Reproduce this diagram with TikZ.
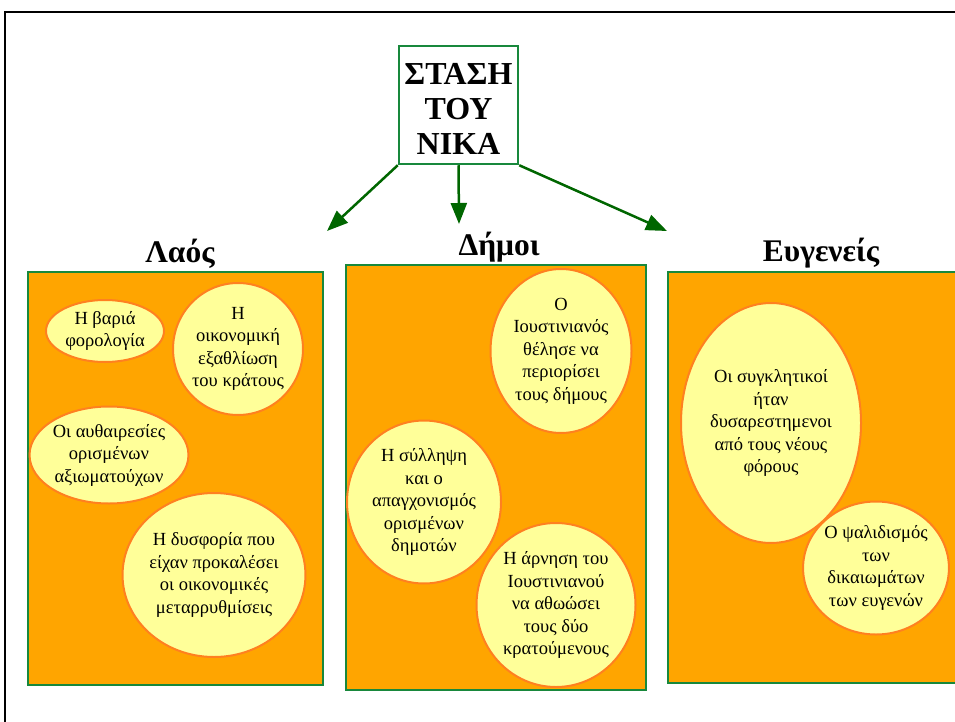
\documentclass[tikz,border=0pt]{standalone}
\usepackage{fontspec}
\setmainfont{Liberation Serif}
\usetikzlibrary{shapes.geometric,arrows.meta}
\definecolor{boxgreen}{RGB}{24,136,60}
\definecolor{arrgreen}{RGB}{0,102,0}
\definecolor{orfill}{RGB}{255,165,0}
\definecolor{elfill}{RGB}{255,255,153}
\definecolor{eldraw}{RGB}{255,128,32}
\tikzset{
  panel/.style={draw=boxgreen,line width=2.5pt,fill=orfill},
  bubble/.style={ellipse,draw=eldraw,line width=2pt,fill=elfill,inner sep=0pt,align=center,
     font=\fontsize{18.5}{22.5}\selectfont},
  grouplabel/.style={anchor=base,font=\bfseries\fontsize{31.5}{36}\selectfont},
  titlebox/.style={draw=boxgreen,line width=2.5pt,fill=white,minimum width=119pt,minimum height=118pt,
     align=center,inner sep=0pt,font=\bfseries\fontsize{32}{35}\selectfont},
  conn/.style={draw=arrgreen,line width=2.5pt,-{Triangle[length=21pt,width=16pt]}}
}
\begin{document}
\begin{tikzpicture}[x=1pt,y=-1pt]
\useasboundingbox (0,0) rectangle (955,722);
\clip (0,0) rectangle (955,722);
\fill[white] (0,0) rectangle (955,722);
\draw[line width=2.5pt] (5,730) -- (5,12) -- (965,12);

% panels
\draw[panel] (28,272) rectangle (323,685);
\draw[panel] (346,265) rectangle (646,690);
\draw[panel] (668,272) rectangle (970,683);

% title
\node[titlebox] (title) at (458.5,105) {\rule{0pt}{30pt}ΣΤΑΣΗ\\ΤΟΥ\\ΝΙΚΑ};
\coordinate (t1) at (327,231);
\coordinate (t2) at (459,224);
\coordinate (t3) at (667,231);
\draw[conn] (title.south west) -- (t1);
\draw[conn] (title.south) -- (t2);
\draw[conn] (title.south east) -- (t3);

% group labels
\node[grouplabel] (laos) at (180,262) {Λαός};
\node[grouplabel] (dimoi) at (499,255) {Δήμοι};
\node[grouplabel] (evg) at (821,261) {Ευγενείς};

% Laos bubbles
\node[bubble,minimum width=118pt,minimum height=62pt] (l1) at (105,331) {Η βαριά\\φορολογία};
\node[bubble,minimum width=126pt,minimum height=132pt] (l2) at (238,349) {Η\\οικονομική\\εξαθλίωση\\του κράτους};
\node[bubble,minimum width=158pt,minimum height=97pt] (l3) at (109,455) {Οι αυθαιρεσίες\\ορισμένων\\αξιωματούχων};
\node[bubble,minimum width=175pt,minimum height=164pt] (l4) at (214,575) {Η δυσφορία που\\είχαν προκαλέσει\\οι οικονομικές\\μεταρρυθμίσεις};

% Dimoi bubbles
\node[bubble,minimum width=141pt,minimum height=164pt] (d1) at (561,351) {Ο\\Ιουστινιανός\\θέλησε να\\περιορίσει\\τους δήμους};
\node[bubble,minimum width=154pt,minimum height=163pt] (d2) at (424,502) {Η σύλληψη\\και ο\\απαγχονισμός\\ορισμένων\\δημοτών};
\node[bubble,minimum width=159pt,minimum height=164pt] (d3) at (556,605) {Η άρνηση του\\Ιουστινιανού\\να αθωώσει\\τους δύο\\κρατούμενους};

% Evgeneis bubbles
\node[bubble,minimum width=180pt,minimum height=240pt] (e1) at (771,423) {Οι συγκλητικοί\\ήταν\\δυσαρεστημενοι\\από τους νέους\\φόρους};
\node[bubble,minimum width=144pt,minimum height=133pt] (e2) at (876,568) {Ο ψαλιδισμός\\των\\δικαιωμάτων\\των ευγενών};
\end{tikzpicture}
\end{document}
